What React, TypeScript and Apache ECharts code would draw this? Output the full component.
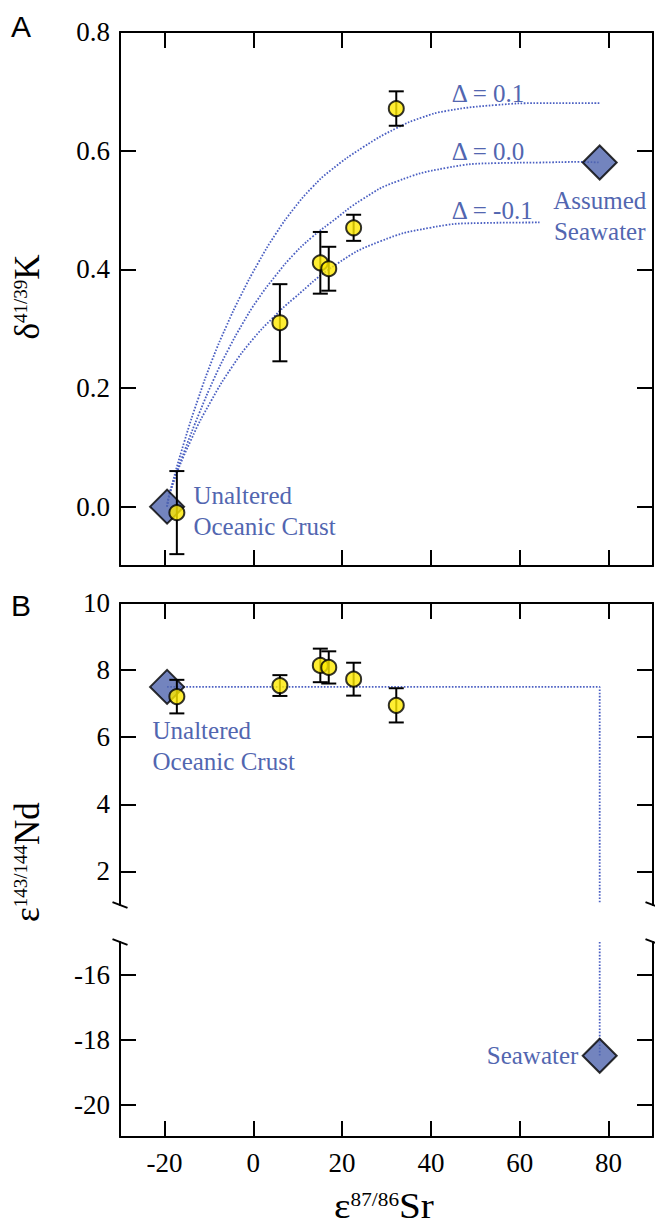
import React, { useEffect, useRef } from 'react';
import * as echarts from 'echarts';

// ---- tick labels ----
const srTicks = [-20, 0, 20, 40, 60, 80];
const kTicks = [0, 0.2, 0.4, 0.6, 0.8];
const ndUpperTicks = [2, 4, 6, 8, 10];
const ndLowerTicks = [-20, -18, -16];

// ---- samples ----
const sampleSr = [-17.2, 6.0, 15.1, 17.0, 22.6, 32.2];
const sampleK = [-0.01, 0.31, 0.411, 0.401, 0.47, 0.671];
const sampleKErr = [0.07, 0.065, 0.052, 0.037, 0.022, 0.029];
const sampleNd = [7.21, 7.54, 8.14, 8.08, 7.73, 6.95];
const sampleNdErr = [0.5, 0.31, 0.5, 0.48, 0.49, 0.51];

// ---- end members: [unaltered oceanic crust, seawater] ----
const endSr = [-19.4, 78];
const endK = [0, 0.58];
const endNd = [7.5, -18.5];

// ---- mixing curves ----
const curvePlus = [
  [-19.4, 0], [-18.64, 0.027], [-15.5, 0.11], [-12.35, 0.183], [-9.21, 0.248], [-6.06, 0.304],
  [-2.92, 0.354], [1.12, 0.411], [5.17, 0.461], [9.21, 0.503], [13.25, 0.538], [17.29, 0.566],
  [24.77, 0.606], [32.27, 0.638], [38.0, 0.656], [43.5, 0.667], [54.73, 0.677], [64.45, 0.68], [77.92, 0.68],
];
const curveZero = [
  [-19.4, 0], [-18.64, 0.027], [-15.38, 0.096], [-12.13, 0.158], [-8.87, 0.215], [-5.61, 0.265],
  [-2.36, 0.309], [0.9, 0.348], [5.0, 0.389], [9.1, 0.425], [13.19, 0.454], [17.29, 0.478],
  [24.77, 0.519], [32.27, 0.548], [43.5, 0.571], [54.73, 0.579], [64.45, 0.58], [73.43, 0.581], [78, 0.58],
];
const curveMinus = [
  [-19.4, 0], [-18.64, 0.027], [-14.04, 0.112], [-9.43, 0.179], [-4.83, 0.235], [-0.22, 0.281],
  [4.38, 0.318], [8.98, 0.35], [18.8, 0.409], [28.52, 0.447], [39.75, 0.47], [50.98, 0.478], [64.45, 0.479],
];
const ndLineUpper = [[-19.4, 7.5], [78, 7.5], [78, 1.06]];
const ndLineLower = [[78, -15], [78, -18.5]];

const SERIF = 'Liberation Serif';
const SANS = 'Liberation Sans';
const BLUE = '#5065ae';
const TEXTBLUE = '#5266b0';
const LINEBLUE = '#4a5fc2';
const YELLOW = '#ffea00';

const axisLineStyle = { color: '#000', width: 2 };

function xAxis(gridIndex: number, position: string, showLabel: boolean) {
  return {
    type: 'value', gridIndex, position, min: -30, max: 90,
    axisLine: { show: true, onZero: false, lineStyle: axisLineStyle },
    axisTick: { show: true, inside: true, length: 16, customValues: srTicks, lineStyle: axisLineStyle },
    axisLabel: {
      show: showLabel, customValues: srTicks, margin: 12, fontSize: 27, fontFamily: SERIF, color: '#000',
      formatter: (v: number) => String(v),
    },
    splitLine: { show: false },
  };
}

function yAxis(gridIndex: number, position: string, min: number, max: number, ticks: number[], showLabel: boolean, dec: number) {
  return {
    type: 'value', gridIndex, position, min, max,
    axisLine: { show: true, onZero: false, lineStyle: axisLineStyle },
    axisTick: { show: true, inside: true, length: 16, customValues: ticks, lineStyle: axisLineStyle },
    axisLabel: {
      show: showLabel, customValues: ticks, margin: 10, fontSize: 27, fontFamily: SERIF, color: '#000',
      formatter: (v: number) => v.toFixed(dec),
    },
    splitLine: { show: false },
  };
}

function errRender(params: any, api: any) {
  const x = api.value(0), y = api.value(1), e = api.value(2);
  const t = api.coord([x, y + e]);
  const b = api.coord([x, y - e]);
  const w = 7.5;
  const st = { stroke: '#000', lineWidth: 2 };
  return {
    type: 'group',
    children: [
      { type: 'line', shape: { x1: t[0], y1: t[1], x2: b[0], y2: b[1] }, style: st },
      { type: 'line', shape: { x1: t[0] - w, y1: t[1], x2: t[0] + w, y2: t[1] }, style: st },
      { type: 'line', shape: { x1: b[0] - w, y1: b[1], x2: b[0] + w, y2: b[1] }, style: st },
    ],
  };
}

function dotted(data: number[][], xi: number, yi: number, smooth: number) {
  return {
    type: 'line', data, xAxisIndex: xi, yAxisIndex: yi, symbol: 'none', smooth, z: 1, silent: true,
    lineStyle: { color: LINEBLUE, width: 1.8, type: [1.6, 1.6] },
  };
}

const diamondStyle = { color: BLUE, borderColor: '#000', borderWidth: 2 };
const circleStyle = { color: YELLOW, borderColor: '#000', borderWidth: 2 };

export default function App() {
  const ref = useRef<HTMLDivElement>(null);
  useEffect(() => {
    const chart = echarts.init(ref.current!, null, { renderer: 'svg' });
    const option: any = {
      animation: false,
      textStyle: { fontFamily: SERIF },
      grid: [
        { left: 120, top: 32, width: 533, height: 534 },
        { left: 120, top: 603, width: 533, height: 302 },
        { left: 120, top: 942, width: 533, height: 195 },
      ],
      xAxis: [
        xAxis(0, 'bottom', false),
        xAxis(0, 'top', false),
        xAxis(1, 'top', false),
        xAxis(2, 'bottom', true),
      ],
      yAxis: [
        yAxis(0, 'left', -0.1, 0.8, kTicks, true, 1),
        yAxis(0, 'right', -0.1, 0.8, kTicks, false, 1),
        yAxis(1, 'left', 1, 10, ndUpperTicks, true, 0),
        yAxis(1, 'right', 1, 10, ndUpperTicks, false, 0),
        yAxis(2, 'left', -21, -15, ndLowerTicks, true, 0),
        yAxis(2, 'right', -21, -15, ndLowerTicks, false, 0),
      ],
      series: [
        dotted(curvePlus, 0, 0, 0.5),
        dotted(curveZero, 0, 0, 0.5),
        dotted(curveMinus, 0, 0, 0.5),
        {
          type: 'scatter', xAxisIndex: 0, yAxisIndex: 0, symbol: 'diamond', symbolSize: 34, z: 2, silent: true,
          itemStyle: diamondStyle, data: endSr.map((x, i) => [x, endK[i]]),
        },
        {
          type: 'custom', xAxisIndex: 0, yAxisIndex: 0, z: 3, silent: true, renderItem: errRender,
          encode: { x: 0, y: 1 }, data: sampleSr.map((x, i) => [x, sampleK[i], sampleKErr[i]]),
        },
        {
          type: 'scatter', xAxisIndex: 0, yAxisIndex: 0, symbol: 'circle', symbolSize: 15, z: 4, silent: true,
          itemStyle: circleStyle, data: sampleSr.map((x, i) => [x, sampleK[i]]),
        },
        dotted(ndLineUpper, 2, 2, 0),
        {
          type: 'scatter', xAxisIndex: 2, yAxisIndex: 2, symbol: 'diamond', symbolSize: 34, z: 2, silent: true,
          itemStyle: diamondStyle, data: [[endSr[0], endNd[0]]],
        },
        {
          type: 'custom', xAxisIndex: 2, yAxisIndex: 2, z: 3, silent: true, renderItem: errRender,
          encode: { x: 0, y: 1 }, data: sampleSr.map((x, i) => [x, sampleNd[i], sampleNdErr[i]]),
        },
        {
          type: 'scatter', xAxisIndex: 2, yAxisIndex: 2, symbol: 'circle', symbolSize: 15, z: 4, silent: true,
          itemStyle: circleStyle, data: sampleSr.map((x, i) => [x, sampleNd[i]]),
        },
        dotted(ndLineLower, 3, 4, 0),
        {
          type: 'scatter', xAxisIndex: 3, yAxisIndex: 4, symbol: 'diamond', symbolSize: 34, z: 2, silent: true,
          itemStyle: diamondStyle, data: [[endSr[1], endNd[1]]],
        },
      ],
    };
    chart.setOption(option);

    const toPx = (xi: number, yi: number, p: number[]) =>
      chart.convertToPixel({ xAxisIndex: xi, yAxisIndex: yi } as any, p) as number[];

    const annot = (xi: number, yi: number, p: number[], text: string, align: string) => {
      const [x, y] = toPx(xi, yi, p);
      return {
        type: 'text', x, y, silent: true, z: 10,
        style: {
          text, fill: TEXTBLUE, font: `25px ${SERIF}`, fontSize: 25, fontFamily: SERIF, lineHeight: 31,
          align, textAlign: align, verticalAlign: 'middle', textVerticalAlign: 'middle',
        },
      };
    };

    const titleRich = {
      m: { fontSize: 35, fontFamily: SERIF, fill: '#000', color: '#000', lineHeight: 32 },
      s: { fontSize: 19, fontFamily: SERIF, fill: '#000', color: '#000', lineHeight: 14, verticalAlign: 'top' },
    };
    const title = (x: number, y: number, text: string, rot: number, sx: number) => ({
      type: 'text', x, y, rotation: rot, scaleX: sx, silent: true,
      style: {
        text, rich: titleRich, fill: '#000', align: 'center', textAlign: 'center',
        verticalAlign: 'middle', textVerticalAlign: 'middle',
      },
    });

    const brk = (x: number, y: number) => ({
      type: 'line', silent: true, z: 10,
      shape: { x1: x - 7.5, y1: y - 2.9, x2: x + 7.5, y2: y + 2.9 },
      style: { stroke: '#000', lineWidth: 2 },
    });

    const panelLabel = (y: number, text: string) => ({
      type: 'text', x: 11, y, silent: true,
      style: {
        text, fill: '#000', font: `30px ${SANS}`, fontSize: 30, fontFamily: SANS,
        verticalAlign: 'middle', textVerticalAlign: 'middle',
      },
    });

    const graphic: any[] = [
      annot(0, 0, [44.7, 0.696], 'Δ = 0.1', 'left'),
      annot(0, 0, [44.7, 0.599], 'Δ = 0.0', 'left'),
      annot(0, 0, [44.7, 0.499], 'Δ = -0.1', 'left'),
      annot(0, 0, [78, 0.49], 'Assumed\nSeawater', 'center'),
      annot(0, 0, [-13.47, -0.008], 'Unaltered\nOceanic Crust', 'left'),
      annot(2, 2, [-22.68, 5.745], 'Unaltered\nOceanic Crust', 'left'),
      annot(3, 4, [73.2, -18.48], 'Seawater', 'right'),
      title(27, 297, '{m|δ}{s|41/39}{m|K}', Math.PI / 2, 1),
      title(27, 862, '{m|ε}{s|143/144}{m|Nd}', Math.PI / 2, 1),
      title(384, 1206, '{m|ε}{s|87/86}{m|Sr}', 0, 1.12),
      panelLabel(26, 'A'),
      panelLabel(605, 'B'),
      brk(120, 905), brk(653, 905), brk(120, 942), brk(653, 942),
    ];
    chart.setOption({ graphic });

    return () => chart.dispose();
  }, []);

  return (
    <div
      ref={ref}
      style={{ position: 'absolute', left: 0, top: 0, width: 655, height: 1224, background: '#fff' }}
    />
  );
}
